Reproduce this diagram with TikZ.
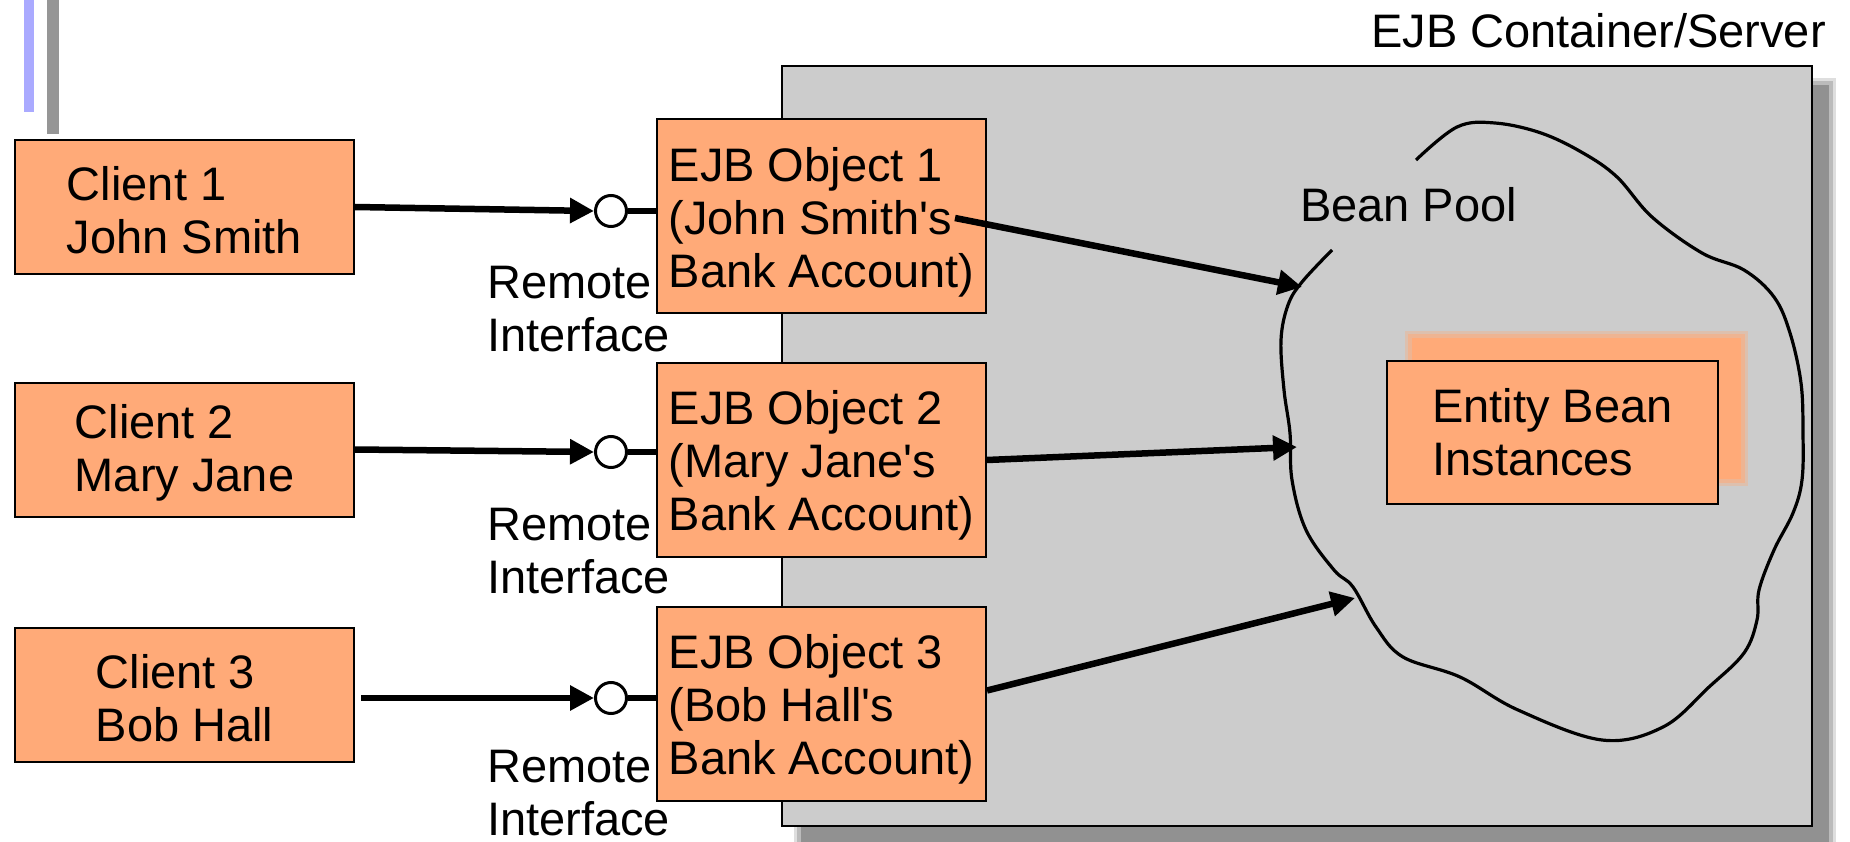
\documentclass[tikz,border=0pt]{standalone}
\usepackage{fontspec}
\setmainfont{Liberation Sans}
\usetikzlibrary{arrows.meta}
\definecolor{boxorange}{RGB}{255,170,120}
\definecolor{contgray}{RGB}{204,204,204}
\definecolor{shadowgray}{RGB}{145,145,145}
\definecolor{barblue}{RGB}{170,170,255}
\definecolor{bargray}{RGB}{150,150,150}
\newcommand{\apos}{\textquotesingle}
\newcommand{\topstrut}{\rule{0pt}{45pt}}
\newcommand{\clstrut}{\rule{0pt}{40pt}}
\begin{document}
\begin{tikzpicture}[x=1pt,y=-1pt,
  txt/.style={font=\fontsize{47}{53}\selectfont},
  obox/.style={draw=black, line width=2pt, fill=boxorange, inner sep=0pt, align=left, txt},
  client/.style={obox, minimum width=339pt, minimum height=134pt},
  ejb/.style={obox, minimum width=329pt, minimum height=194pt},
  iface/.style={circle, draw=black, line width=3pt, fill=white, minimum size=31pt, inner sep=0pt},
  conn/.style={line width=6.5pt, -{Triangle[length=24pt,width=24pt]}},
  stub/.style={line width=6.5pt},
  lbl/.style={inner sep=0pt, align=left, txt},
  pool/.style={line width=3.2pt, line join=round}
]
\useasboundingbox (0,0) rectangle (1850,842);
% side bars
\fill[barblue] (24,0) rectangle (34,112);
\fill[bargray] (47,0) rectangle (59,134);
% container shadow
\fill[shadowgray, opacity=0.3] (794,78) rectangle (1836,852);
\fill[shadowgray, opacity=0.45] (797,81) rectangle (1833,849);
\fill[shadowgray] (801,85) rectangle (1829,845);
% container
\node[draw=black, fill=contgray, line width=2pt, minimum width=1030pt, minimum height=760pt, inner sep=0pt] (cont) at (1297,446) {};
\node[lbl, anchor=base east] (conttitle) at (1826,48) {EJB Container/Server};
% clients
\node[client] (c1) at (184.5,207) {\clstrut Client 1\\John Smith};
\node[client] (c2) at (184.5,449.5) {\clstrut Client 2\\Mary Jane};
\node[client] (c3) at (184.5,695) {\clstrut Client 3\\Bob Hall};
% interfaces
\node[iface] (i1) at (611,211) {};
\node[iface] (i2) at (611,452) {};
\node[iface] (i3) at (611,698) {};
\node[lbl, anchor=north west] (r1) at (487,266) {Remote\\Interface};
\node[lbl, anchor=north west] (r2) at (487,508) {Remote\\Interface};
\node[lbl, anchor=north west] (r3) at (487,750) {Remote\\Interface};
% EJB objects
\node[ejb] (o1) at (821.5,216.5) {\topstrut EJB Object 1\\(John Smith\apos s\\Bank Account)};
\node[ejb] (o2) at (821.5,460) {\topstrut EJB Object 2\\(Mary Jane\apos s\\Bank Account)};
\node[ejb] (o3) at (821.5,703.5) {\topstrut EJB Object 3\\(Bob Hall\apos s\\Bank Account)};
% entity bean shadow (soft)
\fill[boxorange, opacity=0.35] (1405,331) rectangle (1748,486);
\fill[boxorange, opacity=0.5] (1408,334) rectangle (1745,483);
\fill[boxorange] (1412,338) rectangle (1741,479);
\node[obox, minimum width=331pt, minimum height=143pt] (eb) at (1552.5,432.5) {Entity Bean\\Instances};
% bean pool
\node[lbl, anchor=base west] (bp) at (1300,222) {Bean Pool};
\draw[pool] plot[smooth, tension=0.6] coordinates {
 (1416,160) (1457,127) (1495,123) (1541,133) (1583,153) (1617,177) (1652,217)
 (1702,253) (1744,270) (1774,297) (1790,333) (1801,383) (1803,433) (1802,480)
 (1793,513) (1774,550) (1759,590) (1757,620) (1744,653) (1709,687) (1663,727)
 (1602,740) (1518,710) (1460,677) (1403,657) (1376,627) (1353,587) (1334,570)
 (1306,530) (1292,480) (1290,433) (1284,390) (1281,340) (1288,305) (1302,282) (1332,250)};
\coordinate (p1) at (1302,287);
\coordinate (p2) at (1297,447);
\coordinate (p3) at (1355,598);
\coordinate (o1s) at (955,218);
% connectors
\draw[conn] (c1.east) -- (i1.west);
\draw[conn] (c2.east) -- (i2.west);
\draw[conn] ([xshift=6pt]c3.east |- i3.west) -- (i3.west);
\draw[stub] (i1.east) -- (i1 -| o1.west);
\draw[stub] (i2.east) -- (i2 -| o2.west);
\draw[stub] (i3.east) -- (i3 -| o3.west);
\draw[conn] (o1s) -- (p1);
\draw[conn] (o2.east) -- (p2);
\draw[conn] ([yshift=13pt]o3.east) -- (p3);
\end{tikzpicture}
\end{document}
